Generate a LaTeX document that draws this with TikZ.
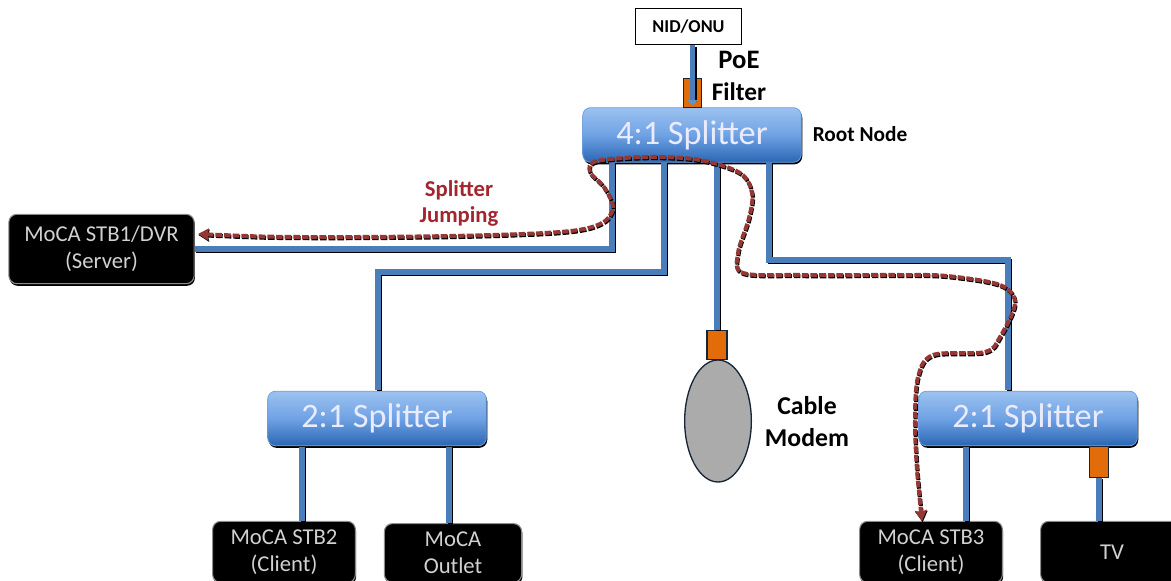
\documentclass[tikz,border=0pt]{standalone}
\usepackage{fontspec}
\setmainfont{Carlito}
\usetikzlibrary{shadows,arrows.meta,shapes.geometric,calc}
\definecolor{wireblue}{HTML}{4A7EBB}
\definecolor{splittop}{HTML}{9CC2F0}
\definecolor{splitmid}{HTML}{6FA2E4}
\definecolor{splitbot}{HTML}{2A66B4}
\definecolor{filterorange}{HTML}{E36C0A}
\definecolor{jumpred}{HTML}{953735}
\definecolor{jumptext}{HTML}{A3262E}
\tikzset{
  x=0.75pt,y=-0.75pt,
  splitterbox/.style={rectangle,rounded corners=6pt,inner sep=0pt,
    top color=splittop,bottom color=splitbot,middle color=splitmid,
    draw=splitmid,line width=0.6pt,text=white!92!blue,
    minimum width=164pt,minimum height=41pt,
    font=\fontsize{25.7}{30}\selectfont,
    drop shadow={shadow xshift=0.7pt,shadow yshift=-1.5pt,fill=black,opacity=1}},
  blackbox/.style={rectangle,rounded corners=6pt,inner sep=0pt,align=center,
    fill=black,draw=black!45,line width=0.8pt,text=white!82!black,
    font=\fontsize{17}{20}\selectfont,
    drop shadow={shadow xshift=0.6pt,shadow yshift=-1.6pt,fill=black,opacity=1}},
  wire/.style={draw=wireblue,line width=4pt,line join=miter,
    preaction={draw=black,line width=4pt,transform canvas={xshift=1pt,yshift=-1pt}}},
  filterbox/.style={rectangle,fill=filterorange,inner sep=0pt,draw=black!70!wireblue,line width=0.8pt},
  jump/.style={draw=jumpred,line width=3pt,dash pattern=on 5pt off 1.5pt,
    preaction={draw=black,line width=3pt,dash pattern=on 5pt off 1.5pt,transform canvas={xshift=0.5pt,yshift=-0.9pt}}},
  caption/.style={inner sep=0pt,align=center,text=black},
}
\begin{document}
\begin{tikzpicture}
\path[use as bounding box,clip] (0,0) rectangle (1171,581);
% boxes
\node[draw=black,line width=0.8pt,fill=white,minimum width=80pt,minimum height=27.5pt,inner sep=0pt,font=\bfseries\fontsize{13.6}{16}\selectfont] (nid) at (688.5,26.5) {NID/ONU};
\node[splitterbox] (root) at (692,135) {\raisebox{-1.5pt}{4:1 Splitter}};
\node[splitterbox] (leftsplit) at (377,418.5) {\raisebox{-1.5pt}{2:1 Splitter}};
\node[splitterbox] (rightsplit) at (1028,418.5) {\raisebox{-1.5pt}{2:1 Splitter}};
\node[blackbox,minimum width=139pt,minimum height=52pt] (server) at (101.5,249) {MoCA STB1/DVR\\(Server)};
\node[blackbox,minimum width=107pt,minimum height=46pt] (stbtwo) at (284,552) {MoCA STB2\\(Client)};
\node[blackbox,minimum width=103pt,minimum height=44pt] (outlet) at (453,553) {MoCA\\Outlet};
\node[blackbox,minimum width=107pt,minimum height=46pt] (stbthree) at (931,552) {MoCA STB3\\(Client)};
\node[blackbox,minimum width=107pt,minimum height=46pt] (tv) at (1112,552) {TV};
% filters and modem
\node[filterbox,minimum width=14pt,minimum height=22pt] (poefilter) at (692.5,93) {};
\node[filterbox,minimum width=15pt,minimum height=22pt] (modemfilter) at (717,345) {};
\node[ellipse,fill=black!33,draw=black!70!wireblue,line width=1pt,minimum width=50pt,minimum height=91.5pt,inner sep=0pt] (modem) at (718,421) {};
\node[filterbox,minimum width=14pt,minimum height=23pt] (tvfilter) at (1099,462) {};
% wire ends on the splitters
\coordinate (rootA) at (612,162);
\coordinate (rootB) at (664,162);
\coordinate (rootC) at (717,162);
\coordinate (rootD) at (769,162);
\coordinate (lsIn) at (378,390);
\coordinate (rsIn) at (1008,390);
\coordinate (lsA) at (302,447);
\coordinate (lsB) at (449,447);
\coordinate (rsA) at (966,447);
\coordinate (poeEnd) at (692.5,101);
% wires
\draw[wire] (nid.south -| poefilter) -- (poeEnd);
\fill[wireblue!85!white] (687,100) -- (698,100) -- (692.5,106) -- cycle;
\draw[wire] (rootA) |- (server.east);
\draw[wire] (rootB) |- (lsIn |- 0,272) -- (lsIn);
\draw[wire] (rootC) -- (modemfilter.north);
\draw[wire] (rootD) |- (rsIn |- 0,260) -- (rsIn);
\draw[wire] (lsA) -- (lsA |- stbtwo.north);
\draw[wire] (lsB) -- (lsB |- outlet.north);
\draw[wire] (rsA) -- (rsA |- stbthree.north);
\draw[wire] (tvfilter.south) -- (tvfilter.south |- tv.north);
% jump path
\draw[jump,{Stealth[length=8pt,width=9pt,inset=1pt]}-{Stealth[length=8pt,width=9pt,inset=1pt]}]
  plot[smooth,tension=0.55] coordinates {(198,234) (300,237) (450,236) (560,232) (600,224) (613,208) (604,187) (590,172) (597,161) (650,157) (700,160) (740,173) (752,193) (749,218) (738,253) (743,273) (800,275) (900,275) (947,276) (1000,285) (1015,303) (1000,337) (985,352) (933,355) (918,377) (915,420) (917,470) (922,521)};
% captions
\node[caption,font=\bfseries\fontsize{20}{24}\selectfont] (poe) at (739,60) {PoE};
\node[caption,font=\bfseries\fontsize{19}{23}\selectfont] (filtercap) at (739,92) {Filter};
\node[caption,font=\bfseries\fontsize{16}{19}\selectfont] (rootcap) at (860,134) {Root Node};
\node[caption,text=jumptext,font=\bfseries\fontsize{17}{19.5}\selectfont] (jumpcap) at (459,203) {Splitter\\Jumping};
\node[caption,font=\bfseries\fontsize{19.3}{24}\selectfont] (modemcap) at (807,422) {Cable\\Modem};
\end{tikzpicture}
\end{document}
